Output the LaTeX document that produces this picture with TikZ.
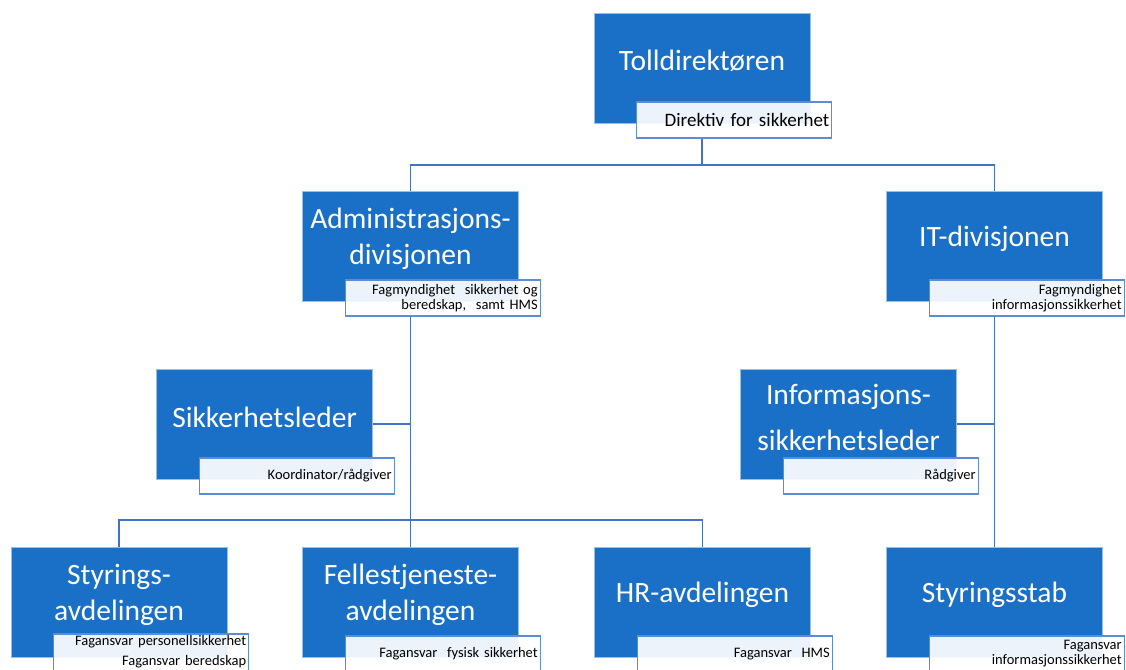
\documentclass[tikz,border=0pt]{standalone}
\usepackage{fontspec}
\setmainfont{Carlito}
\usetikzlibrary{positioning}
\definecolor{unitblue}{RGB}{26,112,198}
\definecolor{lineblue}{RGB}{68,114,196}
\definecolor{noteedge}{RGB}{92,140,212}
\tikzset{
  unit/.style={fill=unitblue, draw=unitblue!45, line width=0.6pt,
    minimum width=216pt, minimum height=110pt, inner sep=0pt},
  title/.style={text=white, align=center, yshift=7pt,
    font=\fontsize{29.5}{36}\selectfont},
  note/.style={anchor=north east, fill=white, fill opacity=0.92, text opacity=1,
    draw=noteedge, line width=1.2pt, minimum height=36pt, text width=190pt,
    inner xsep=2.5pt, inner ysep=2pt, align=right,
    font=\fontsize{14.5}{15}\selectfont},
  link/.style={draw=lineblue, line width=1.8pt}
}
\begin{document}
\begin{tikzpicture}[x=1pt,y=-1pt]
  \useasboundingbox (0,0) rectangle (1126,669);
  % ledelse
  \node[unit, label={[title]center:Tolldirektøren}] (toll) at (702,68) {};
  \node[note, font=\fontsize{19}{20}\selectfont] (tollnote) at ([shift={(22,-22)}]toll.south east) {Direktiv for sikkerhet};
  % divisjoner
  \node[unit, label={[title]center:Administrasjons-\\divisjonen}] (adm) at (410.5,246) {};
  \node[note] (admnote) at ([shift={(22,-22)}]adm.south east) {Fagmyndighet\ \ sikkerhet og\\beredskap,\ \ samt HMS};
  \node[unit, label={[title]center:IT-divisjonen}] (itd) at (994.5,246) {};
  \node[note] (itdnote) at ([shift={(22,-22)}]itd.south east) {Fagmyndighet\\informasjonssikkerhet};
  % ledere
  \node[unit, label={[title]center:Sikkerhetsleder}] (sikk) at (264.5,424) {};
  \node[note] (sikknote) at ([shift={(22,-22)}]sikk.south east) {Koordinator/rådgiver};
  \node[unit, label={[title]center:Informasjons-\\[10pt]sikkerhetsleder}] (info) at (848.5,424) {};
  \node[note] (infonote) at ([shift={(22,-22)}]info.south east) {Rådgiver};
  % avdelinger
  \node[unit, label={[title]center:Styrings-\\avdelingen}] (sty) at (119,602) {};
  \node[note] (stynote) at ([shift={(22,-24)}]sty.south east) {Fagansvar personellsikkerhet\\[5pt]Fagansvar beredskap};
  \node[unit, label={[title]center:Fellestjeneste-\\avdelingen}] (fel) at (410.5,602) {};
  \node[note] (felnote) at ([shift={(22,-22)}]fel.south east) {Fagansvar\ \ fysisk sikkerhet};
  \node[unit, label={[title]center:HR-avdelingen}] (hr) at (702.5,602) {};
  \node[note] (hrnote) at ([shift={(22,-22)}]hr.south east) {Fagansvar\ \ HMS};
  \node[unit, label={[title]center:Styringsstab}] (stab) at (994.5,602) {};
  \node[note] (stabnote) at ([shift={(22,-22)}]stab.south east) {Fagansvar\\informasjonssikkerhet};
  % linjer
  \draw[link] (toll |- tollnote.south) -- ([yshift=26pt]toll |- adm.north);
  \draw[link] (adm.north) -- ++(0,-26) -| (itd.north);
  \draw[link] (adm |- admnote.south) -- (fel.north);
  \draw[link] (sty.north) -- ++(0,-27) -| (hr.north);
  \draw[link] (sikk.east) -- (sikk.east -| adm);
  \draw[link] (itd |- itdnote.south) -- (stab.north);
  \draw[link] (info.east) -- (info.east -| itd);
\end{tikzpicture}
\end{document}
